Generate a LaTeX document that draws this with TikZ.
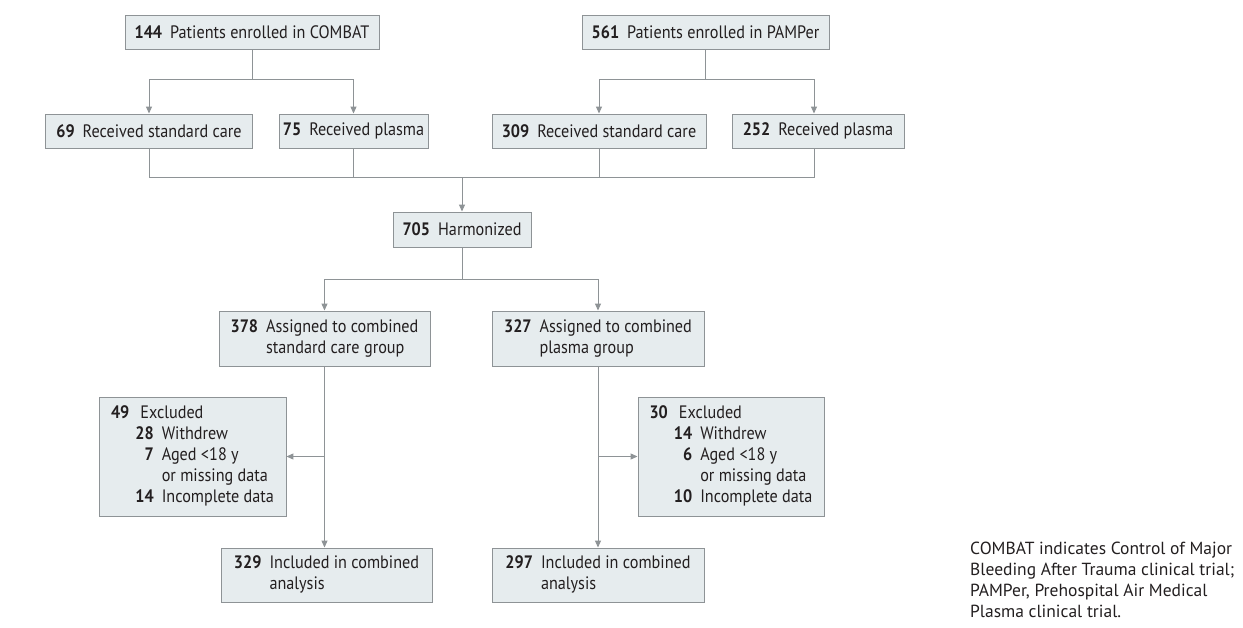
\documentclass[tikz,border=0pt]{standalone}
\usepackage{fontspec}
\setmainfont{PT Sans}[FakeStretch=0.9]
\newfontfamily\notefont{PT Sans}
\usetikzlibrary{arrows.meta}
\definecolor{boxfill}{HTML}{E6ECEE}
\definecolor{boxline}{HTML}{8E9396}
\definecolor{connc}{HTML}{8E9396}
\definecolor{txt}{HTML}{231F20}
\newcommand{\nb}[1]{\textbf{#1}\hspace{8pt}}
\begin{document}
\begin{tikzpicture}[x=1pt,y=-1pt,
  box/.style={draw=boxline, fill=boxfill, line width=0.9pt, inner sep=0pt, text=txt,
    font=\fontsize{18}{21}\selectfont},
  conn/.style={draw=connc, line width=1pt},
  arr/.style={conn, -{Triangle[length=7pt,width=6pt]}}]
\useasboundingbox (0,0) rectangle (1243,628);

% top row
\node[box, minimum width=254pt, minimum height=34pt] (c1) at (252,32) {\nb{144}Patients enrolled in COMBAT};
\node[box, minimum width=247pt, minimum height=34pt] (p1) at (705.5,32) {\nb{561}Patients enrolled in PAMPer};

% second row
\node[box, minimum width=207pt, minimum height=34pt] (c2) at (149,131) {\nb{69}Received standard care};
\node[box, minimum width=149pt, minimum height=34pt] (c3) at (353.5,131) {\nb{75}Received plasma};
\node[box, minimum width=214pt, minimum height=34pt] (p2) at (599,131) {\nb{309}Received standard care};
\node[box, minimum width=172pt, minimum height=34pt] (p3) at (818,131) {\nb{252}Received plasma};

% harmonized
\node[box, minimum width=138pt, minimum height=35pt] (h) at (462,229.5) {\nb{705}Harmonized};

% assigned
\node[box, minimum width=211pt, minimum height=55pt] (a1) at (324.5,338.5)
  {\begin{tabular}{@{}l@{\hspace{8pt}}l@{}}\textbf{378} & Assigned to combined\\ & standard care group\end{tabular}};
\node[box, minimum width=212pt, minimum height=55pt] (a2) at (598,338.5)
  {\begin{tabular}{@{}l@{\hspace{8pt}}l@{}}\textbf{327} & Assigned to combined\\ & plasma group\end{tabular}};

% excluded
\node[box, minimum width=187pt, minimum height=119pt] (e1) at (192.5,456.5)
  {\begin{tabular}{@{}l@{\hspace{6pt}}r@{\hspace{8pt}}l@{}}
   \textbf{49} & \multicolumn{2}{l@{}}{\hspace{-1pt}Excluded}\\
   & \textbf{28} & Withdrew\\
   & \textbf{7} & Aged <18 y\\
   & & or missing data\\
   & \textbf{14} & Incomplete data
   \end{tabular}};
\node[box, minimum width=186pt, minimum height=119pt] (e2) at (731,456.5)
  {\begin{tabular}{@{}l@{\hspace{6pt}}r@{\hspace{8pt}}l@{}}
   \textbf{30} & \multicolumn{2}{l@{}}{\hspace{-1pt}Excluded}\\
   & \textbf{14} & Withdrew\\
   & \textbf{6} & Aged <18 y\\
   & & or missing data\\
   & \textbf{10} & Incomplete data
   \end{tabular}};

% included
\node[box, minimum width=211pt, minimum height=54pt] (i1) at (326.5,575)
  {\begin{tabular}{@{}l@{\hspace{8pt}}l@{}}\textbf{329} & Included in combined\\ & analysis\end{tabular}};
\node[box, minimum width=212pt, minimum height=54pt] (i2) at (598,575)
  {\begin{tabular}{@{}l@{\hspace{8pt}}l@{}}\textbf{297} & Included in combined\\ & analysis\end{tabular}};

% note
\node[anchor=north west, inner sep=0pt, align=left, text=txt,
  font=\notefont\fontsize{17.5}{21}\selectfont] (note) at (970,542)
  {COMBAT indicates Control of Major\\Bleeding After Trauma clinical trial;\\PAMPer, Prehospital Air Medical\\Plasma clinical trial.};

% connectors: top splits
\coordinate (cs) at (252,80);
\coordinate (ps) at (705.5,80);
\draw[conn] (c1.south) -- (cs);
\draw[arr] (cs) -| (c2.north);
\draw[arr] (cs) -| (c3.north);
\draw[conn] (p1.south) -- (ps);
\draw[arr] (ps) -| (p2.north);
\draw[arr] (ps) -| ([xshift=-4pt]p3.north);

% merge
\coordinate (m) at (462,178);
\draw[conn] (c2.south) |- (m);
\draw[conn] (c3.south) |- (m);
\draw[conn] (p2.south) |- (m);
\draw[conn] ([xshift=-4pt]p3.south) |- (m);
\draw[arr] (m) -- (h.north);

% split after harmonized
\coordinate (s) at (462,280);
\draw[conn] (h.south) -- (s);
\draw[arr] (s) -| (a1.north);
\draw[arr] (s) -| (a2.north);

% down to included
\draw[arr] (a1.south) -- (a1.south |- i1.north);
\draw[arr] (a2.south) -- (a2.south |- i2.north);

% exclusions
\draw[arr] (a1.south |- e1.east) -- (e1.east);
\draw[arr] (a2.south |- e2.west) -- (e2.west);
\end{tikzpicture}
\end{document}
